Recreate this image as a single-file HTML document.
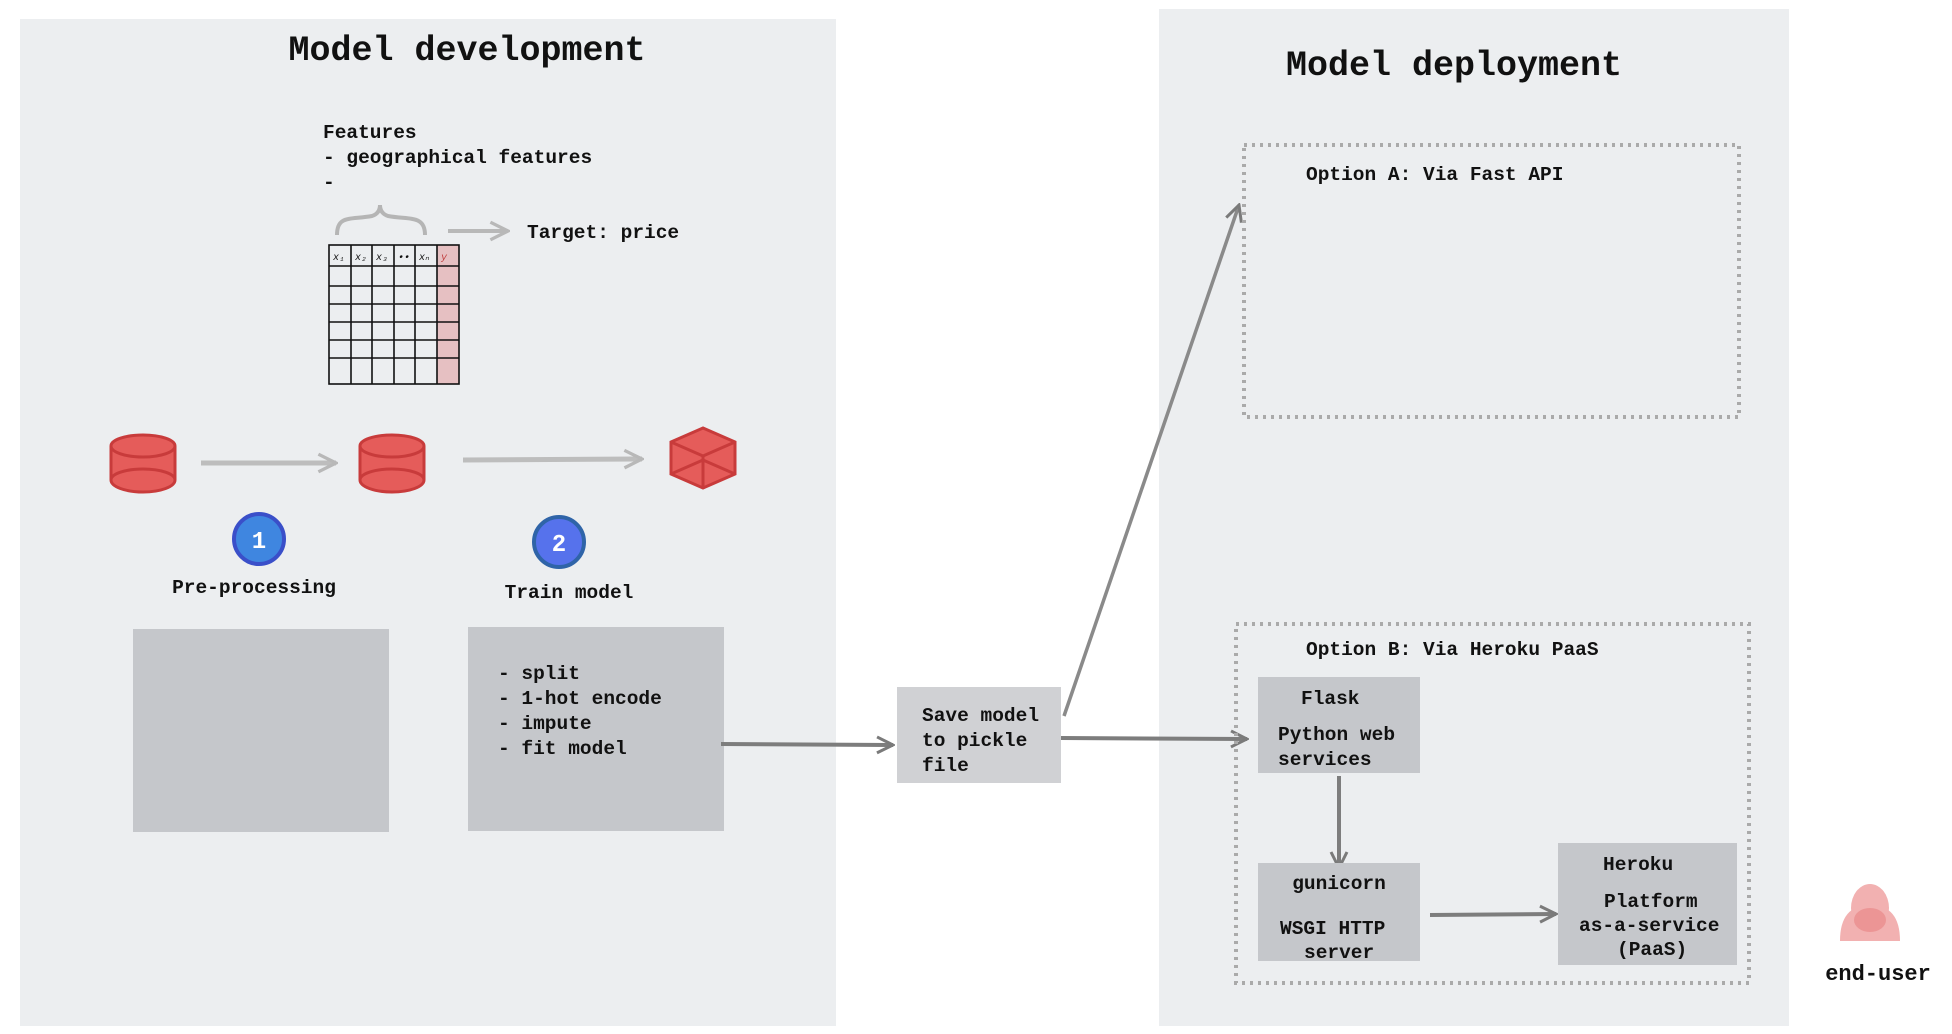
<!DOCTYPE html>
<html><head><meta charset="utf-8"><style>
html,body{margin:0;padding:0;background:#fff;width:1952px;height:1034px;overflow:hidden}
svg text{font-family:"Liberation Mono",monospace;fill:#111}
</style></head><body>
<svg width="1952" height="1034" viewBox="0 0 1952 1034" xmlns="http://www.w3.org/2000/svg">
<defs>
<marker id="ah" viewBox="0 0 20 20" refX="18" refY="10" markerWidth="20" markerHeight="20" markerUnits="userSpaceOnUse" orient="auto">
<path d="M2 2 L18 10 L2 18" fill="none" stroke="#7a7a7a" stroke-width="3"/></marker>
<marker id="ahl" viewBox="0 0 20 20" refX="18" refY="10" markerWidth="22" markerHeight="22" markerUnits="userSpaceOnUse" orient="auto">
<path d="M2 2 L18 10 L2 18" fill="none" stroke="#b8b8b8" stroke-width="3"/></marker>
</defs>
<rect x="20" y="19" width="816" height="1007" fill="#eceef0"/>
<rect x="1159" y="9" width="630" height="1017" fill="#eceef0"/>
<text x="467" y="60" font-size="35" font-weight="bold" text-anchor="middle">Model development</text>
<text x="1454" y="75" font-size="35" font-weight="bold" text-anchor="middle">Model deployment</text>
<text font-size="19.5" font-weight="bold"><tspan x="323" y="138">Features</tspan><tspan x="323" y="163">- geographical features</tspan><tspan x="323" y="188">-</tspan></text>
<path d="M337 235 C337 215 350 220 372 216 C378 214 380 210 380 205 C380 210 382 214 388 216 C410 220 425 215 425 235" fill="none" stroke="#b5b5b5" stroke-width="4"/>
<line x1="448" y1="231" x2="508" y2="231" stroke="#b8b8b8" stroke-width="4" marker-end="url(#ahl)"/>
<text x="527" y="238" font-size="19.5" font-weight="bold">Target: price</text>
<rect x="437" y="245" width="22" height="139" fill="#e6c0c2"/>
<g stroke="#111" stroke-width="1.6" fill="none">
<rect x="329" y="245" width="130" height="139"/>
<line x1="351" y1="245" x2="351" y2="384"/><line x1="372" y1="245" x2="372" y2="384"/><line x1="394" y1="245" x2="394" y2="384"/><line x1="415" y1="245" x2="415" y2="384"/><line x1="437" y1="245" x2="437" y2="384"/>
<line x1="329" y1="266" x2="459" y2="266"/><line x1="329" y1="286" x2="459" y2="286"/><line x1="329" y1="304" x2="459" y2="304"/><line x1="329" y1="322" x2="459" y2="322"/><line x1="329" y1="340" x2="459" y2="340"/><line x1="329" y1="358" x2="459" y2="358"/>
</g>
<g font-size="10" font-style="italic"><text x="333" y="260">x₁</text><text x="355" y="260">x₂</text><text x="376" y="260">x₃</text><text x="398" y="260">••</text><text x="419" y="260">xₙ</text><text x="441" y="260" style="fill:#c04040">y</text></g>
<g fill="#e55c5a" stroke="#c83b3b" stroke-width="3">
<path d="M111 446 L111 480 A32 12 0 0 0 175 480 L175 446"/><ellipse cx="143" cy="446" rx="32" ry="11"/><path d="M111 480 A32 11 0 0 1 175 480" fill="none"/>
<path d="M360 446 L360 480 A32 12 0 0 0 424 480 L424 446"/><ellipse cx="392" cy="446" rx="32" ry="11"/><path d="M360 480 A32 11 0 0 1 424 480" fill="none"/>
<path d="M703 428 L735 442 L735 474 L703 488 L671 474 L671 442 Z"/><path d="M671 442 L703 456 L735 442 M703 456 L703 488 M671 474 L703 460 L735 474" fill="none"/>
</g>
<line x1="201" y1="463" x2="336" y2="463" stroke="#bdbdbd" stroke-width="5" marker-end="url(#ahl)"/>
<line x1="463" y1="460" x2="642" y2="459" stroke="#bdbdbd" stroke-width="5" marker-end="url(#ahl)"/>
<circle cx="259" cy="539" r="25" fill="#3f86e0" stroke="#3a4fc9" stroke-width="4"/>
<text x="259" y="548" font-size="24" font-weight="bold" text-anchor="middle" style="fill:#fff">1</text>
<circle cx="559" cy="542" r="25" fill="#5672ec" stroke="#2f64a8" stroke-width="4"/>
<text x="559" y="551" font-size="24" font-weight="bold" text-anchor="middle" style="fill:#fff">2</text>
<text x="254" y="593" font-size="19.5" font-weight="bold" text-anchor="middle">Pre-processing</text>
<text x="569" y="598" font-size="19.5" font-weight="bold" text-anchor="middle">Train model</text>
<rect x="133" y="629" width="256" height="203" fill="#c5c7cb"/>
<rect x="468" y="627" width="256" height="204" fill="#c5c7cb"/>
<text font-size="19.5" font-weight="bold"><tspan x="498" y="679">- split</tspan><tspan x="498" y="704">- 1-hot encode</tspan><tspan x="498" y="729">- impute</tspan><tspan x="498" y="754">- fit model</tspan></text>
<line x1="721" y1="744" x2="893" y2="745" stroke="#7d7d7d" stroke-width="4" marker-end="url(#ah)"/>
<rect x="897" y="687" width="164" height="96" fill="#d0d1d4"/>
<text font-size="19.5" font-weight="bold"><tspan x="922" y="721">Save model</tspan><tspan x="922" y="746">to pickle</tspan><tspan x="922" y="771">file</tspan></text>
<line x1="1064" y1="716" x2="1239" y2="205" stroke="#8a8a8a" stroke-width="3.5" marker-end="url(#ah)"/>
<rect x="1244" y="145" width="495" height="272" fill="none" stroke="#aaa" stroke-width="4" stroke-dasharray="3 5"/>
<text x="1306" y="180" font-size="19.5" font-weight="bold">Option A: Via Fast API</text>
<line x1="1061" y1="738" x2="1247" y2="739" stroke="#7d7d7d" stroke-width="4" marker-end="url(#ah)"/>
<rect x="1236" y="624" width="513" height="359" fill="none" stroke="#aaa" stroke-width="4" stroke-dasharray="3 5"/>
<text x="1306" y="655" font-size="19.5" font-weight="bold">Option B: Via Heroku PaaS</text>
<rect x="1258" y="677" width="162" height="96" fill="#c5c7cb"/>
<text font-size="19.5" font-weight="bold"><tspan x="1301" y="704">Flask</tspan><tspan x="1278" y="740">Python web</tspan><tspan x="1278" y="765">services</tspan></text>
<line x1="1339" y1="776" x2="1339" y2="868" stroke="#7d7d7d" stroke-width="4" marker-end="url(#ah)"/>
<rect x="1258" y="863" width="162" height="98" fill="#c5c7cb"/>
<text font-size="19.5" font-weight="bold"><tspan x="1339" y="889" text-anchor="middle">gunicorn</tspan><tspan x="1280" y="934">WSGI HTTP</tspan><tspan x="1304" y="958">server</tspan></text>
<line x1="1430" y1="915" x2="1556" y2="914" stroke="#7d7d7d" stroke-width="4" marker-end="url(#ah)"/>
<rect x="1558" y="843" width="179" height="122" fill="#c5c7cb"/>
<text font-size="19.5" font-weight="bold"><tspan x="1603" y="870">Heroku</tspan><tspan x="1604" y="907">Platform</tspan><tspan x="1579" y="931">as-a-service</tspan><tspan x="1617" y="955">(PaaS)</tspan></text>
<ellipse cx="1870" cy="908" rx="19" ry="24" fill="#f2b1b1"/>
<path d="M1840 941 Q1840 905 1870 905 Q1900 905 1900 941 Z" fill="#f2b1b1"/>
<ellipse cx="1870" cy="920" rx="16" ry="12" fill="#ec9595"/>
<text x="1878" y="980" font-size="22" font-weight="bold" text-anchor="middle">end-user</text>
</svg>
</body></html>
